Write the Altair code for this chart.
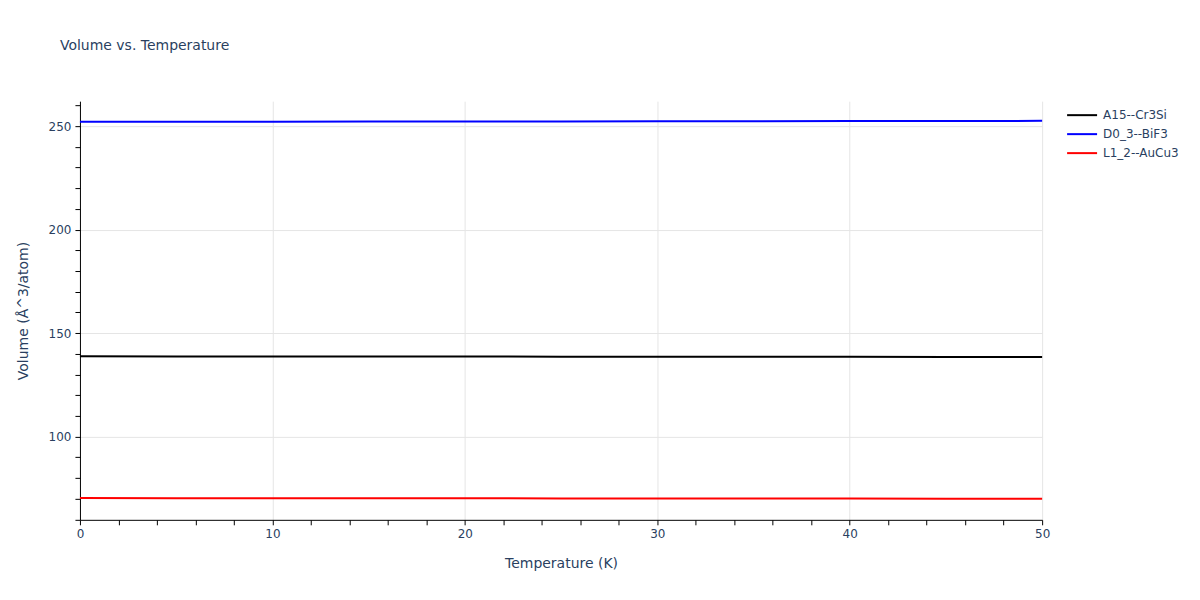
import altair as alt
import pandas as pd

temps = [0, 5, 10, 15, 20, 25, 30, 35, 40, 45, 50]
a15 = [138.80, 138.77, 138.74, 138.71, 138.68, 138.65, 138.62, 138.59, 138.56, 138.53, 138.50]
d03 = [252.10, 252.14, 252.18, 252.23, 252.28, 252.33, 252.38, 252.43, 252.48, 252.53, 252.58]
l12 = [70.30, 70.27, 70.24, 70.21, 70.18, 70.15, 70.12, 70.09, 70.06, 70.03, 70.00]
names = ["A15--Cr3Si", "D0_3--BiF3", "L1_2--AuCu3"]
colors = ["#000000", "#0000ff", "#ff0000"]

rows = []
for name, vals in zip(names, [a15, d03, l12]):
    for t, v in zip(temps, vals):
        rows.append({"T": t, "V": v, "s": name})
df = pd.DataFrame(rows)

txt = "#2a3f5f"
font = "DejaVu Sans"

x_vals = list(range(0, 51, 2))
y_vals = list(range(60, 261, 10))

chart = alt.Chart(df).mark_line(strokeWidth=2).encode(
    x=alt.X("T:Q", title="Temperature (K)",
            scale=alt.Scale(domain=[0, 50], nice=False, zero=False),
            axis=alt.Axis(values=x_vals,
                          labelExpr="datum.value % 10 === 0 ? datum.label : ''",
                          gridOpacity={"condition": {"test": "datum.value % 10 === 0 && datum.value > 0", "value": 1}, "value": 0},
                          tickSize=5, titlePadding=17, labelPadding=4, labelFlush=False)),
    y=alt.Y("V:Q", title="Volume (Å^3/atom)",
            scale=alt.Scale(domain=[59.8, 262.1], nice=False, zero=False),
            axis=alt.Axis(values=y_vals,
                          labelExpr="datum.value % 50 === 0 ? datum.label : ''",
                          gridOpacity={"condition": {"test": "datum.value % 50 === 0", "value": 1}, "value": 0},
                          tickSize=5, titlePadding=18, labelPadding=4, labelFlush=False)),
    color=alt.Color("s:N", title=None,
                    scale=alt.Scale(domain=names, range=colors),
                    legend=alt.Legend(orient="none", legendX=997, legendY=8,
                                      symbolType="M-3,0L3,0", symbolSize=100,
                                      symbolStrokeWidth=2, rowPadding=7, labelOffset=15,
                                      labelFontSize=12, labelColor=txt, labelFont=font)),
).properties(
    width=963, height=419,
    title=alt.TitleParams("Volume vs. Temperature", anchor="start", frame="group", dx=-20, offset=48,
                          fontSize=14, fontWeight="normal", color=txt, font=font),
    autosize=alt.AutoSizeParams(type="none"),
    padding={"left": 72, "top": 93, "right": 150, "bottom": 70},
).configure_axis(
    domainColor="#000000", tickColor="#000000", gridColor="#e5e5e5",
    labelColor=txt, titleColor=txt, labelFont=font, titleFont=font,
    labelFontSize=12, titleFontSize=14, titleFontWeight="normal",
).configure_view(stroke=None)

chart.save("out.html", embed_options={"renderer": "svg", "actions": False})
